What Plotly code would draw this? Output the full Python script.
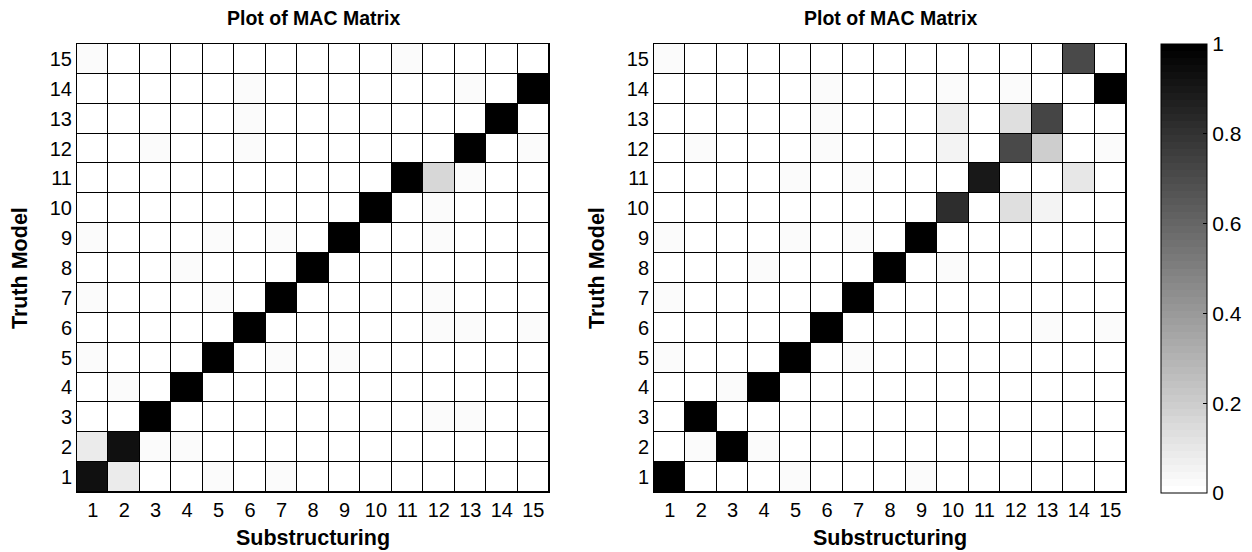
import plotly.graph_objects as go

modes = list(range(1, 15 + 1))
tick_labels = [str(m) for m in modes]

# MAC values, rows = truth model mode (1..15), columns = substructuring mode (1..15)
mac_left = [
    [0.93, 0.09, 0, 0, 0.02, 0, 0.02, 0, 0, 0, 0, 0, 0, 0, 0],
    [0.08, 0.93, 0.02, 0.02, 0, 0, 0, 0, 0, 0, 0, 0, 0, 0, 0],
    [0, 0, 1, 0, 0, 0, 0, 0, 0, 0, 0, 0.03, 0.02, 0, 0],
    [0, 0.02, 0, 1, 0, 0, 0, 0, 0, 0, 0, 0, 0, 0, 0],
    [0.02, 0, 0, 0, 1, 0, 0.02, 0, 0.02, 0, 0, 0, 0, 0, 0],
    [0, 0, 0, 0, 0, 1, 0, 0, 0, 0, 0, 0.02, 0.02, 0, 0.03],
    [0.02, 0, 0, 0, 0.02, 0, 1, 0, 0, 0, 0, 0.02, 0, 0, 0],
    [0, 0, 0, 0.02, 0, 0, 0, 1, 0, 0, 0, 0, 0, 0, 0],
    [0.02, 0, 0, 0, 0.02, 0, 0.02, 0, 1, 0, 0, 0.03, 0, 0, 0],
    [0, 0, 0, 0, 0, 0, 0, 0, 0, 1, 0, 0.02, 0, 0, 0],
    [0, 0, 0, 0, 0, 0, 0, 0, 0, 0, 1, 0.17, 0.02, 0, 0],
    [0, 0, 0.02, 0, 0, 0.02, 0, 0, 0, 0, 0, 0, 1, 0, 0.02],
    [0, 0, 0, 0, 0, 0.02, 0, 0, 0, 0, 0, 0, 0, 1, 0],
    [0, 0, 0, 0, 0, 0.02, 0, 0, 0, 0, 0, 0, 0.02, 0, 1],
    [0.02, 0, 0, 0, 0, 0, 0, 0, 0, 0, 0.03, 0, 0, 0, 0],
]

mac_right = [
    [1, 0, 0, 0, 0.02, 0, 0, 0, 0.02, 0, 0, 0, 0, 0, 0],
    [0, 0.02, 1, 0.02, 0, 0, 0, 0, 0, 0, 0, 0, 0, 0, 0],
    [0, 1, 0, 0, 0, 0, 0, 0, 0, 0, 0, 0, 0, 0, 0],
    [0, 0, 0.02, 1, 0, 0, 0, 0, 0, 0, 0, 0, 0, 0, 0],
    [0.02, 0, 0, 0, 1, 0, 0.02, 0, 0, 0, 0, 0, 0, 0, 0],
    [0, 0, 0, 0, 0, 1, 0, 0, 0, 0, 0, 0, 0.02, 0, 0.02],
    [0.02, 0, 0, 0, 0, 0, 1, 0, 0, 0, 0, 0, 0, 0, 0],
    [0, 0, 0, 0.02, 0, 0, 0, 1, 0, 0.02, 0, 0, 0, 0, 0],
    [0.02, 0, 0, 0, 0.02, 0, 0.02, 0, 1, 0, 0, 0, 0, 0, 0],
    [0, 0, 0, 0, 0, 0, 0, 0, 0, 0.82, 0, 0.14, 0.05, 0, 0],
    [0, 0, 0, 0, 0.02, 0, 0.02, 0, 0, 0, 0.9, 0, 0, 0.1, 0],
    [0, 0.02, 0, 0, 0, 0.02, 0, 0, 0, 0.05, 0, 0.71, 0.2, 0, 0.02],
    [0, 0, 0, 0, 0, 0.02, 0, 0, 0, 0.07, 0, 0.14, 0.73, 0, 0],
    [0, 0, 0, 0, 0, 0.02, 0, 0, 0, 0.02, 0, 0.02, 0, 0, 1],
    [0.02, 0, 0, 0, 0, 0, 0, 0, 0, 0, 0, 0, 0, 0.71, 0],
]

cbar_ticks = [0, 0.2, 0.4, 0.6, 0.8, 1]

FONT = "Liberation Sans, Arial, sans-serif"

# 64-level inverted gray colormap (white = 0, black = 1)
n_levels = 64
colorscale = []
for k in range(n_levels):
    g = round(255 * (1 - k / (n_levels - 1)))
    c = f"rgb({g},{g},{g})"
    colorscale.append([k / n_levels, c])
    colorscale.append([(k + 1) / n_levels, c])

fig = go.Figure()

for mat, xa, ya in [(mac_left, "x", "y"), (mac_right, "x2", "y2")]:
    fig.add_trace(go.Heatmap(
        z=mat, x=modes, y=modes, coloraxis="coloraxis",
        xgap=1, ygap=1, xaxis=xa, yaxis=ya, hoverongaps=False,
    ))

W, H = 1252, 552
def px(v):
    return v / W
def py(v):
    return 1 - v / H

left_dom = [px(77), px(549)]
right_dom = [px(654), px(1126)]
y_dom = [py(492), py(44)]

axis_common = dict(
    range=[0.5, 15.5], tickmode="array", tickvals=modes, ticktext=tick_labels,
    showgrid=False, zeroline=False, showline=True, linecolor="black", linewidth=1,
    mirror=True, ticks="", tickfont=dict(family=FONT, size=20, color="black"),
)

fig.update_layout(
    width=W, height=H,
    margin=dict(l=0, r=0, t=0, b=0),
    paper_bgcolor="white",
    plot_bgcolor="black",
    showlegend=False,
    xaxis=dict(domain=left_dom, anchor="y", **axis_common),
    yaxis=dict(domain=y_dom, anchor="x", **axis_common),
    xaxis2=dict(domain=right_dom, anchor="y2", **axis_common),
    yaxis2=dict(domain=y_dom, anchor="x2", **axis_common),
    coloraxis=dict(
        colorscale=colorscale, cmin=0, cmax=1,
        colorbar=dict(
            x=px(1161), xanchor="left", xref="paper",
            y=py(44), yanchor="top", len=(493 - 44) / H, lenmode="fraction",
            thickness=46, thicknessmode="pixels",
            outlinecolor="black", outlinewidth=1,
            tickmode="array", tickvals=cbar_ticks, ticktext=[f"{t:g}" for t in cbar_ticks],
            ticks="inside", ticklen=4, tickcolor="black",
            tickfont=dict(family=FONT, size=21, color="black"),
            xpad=0, ypad=0,
        ),
    ),
)

title_font = dict(family=FONT, size=19.5, color="black")
label_font = dict(family=FONT, size=21.5, color="black")
annotations = []
for dom in (left_dom, right_dom):
    cx = (dom[0] + dom[1]) / 2
    annotations.append(dict(text="<b>Plot of MAC Matrix</b>", x=cx, y=py(18),
                            xref="paper", yref="paper", showarrow=False,
                            xanchor="center", yanchor="middle", font=title_font))
    annotations.append(dict(text="<b>Substructuring</b>", x=cx, y=py(538),
                            xref="paper", yref="paper", showarrow=False,
                            xanchor="center", yanchor="middle", font=label_font))
for xc in (20, 597):
    annotations.append(dict(text="<b>Truth Model</b>", x=px(xc), y=(y_dom[0] + y_dom[1]) / 2,
                            xref="paper", yref="paper", showarrow=False, textangle=-90,
                            xanchor="center", yanchor="middle", font=label_font))
fig.update_layout(annotations=annotations)

fig.write_html("out.html")
